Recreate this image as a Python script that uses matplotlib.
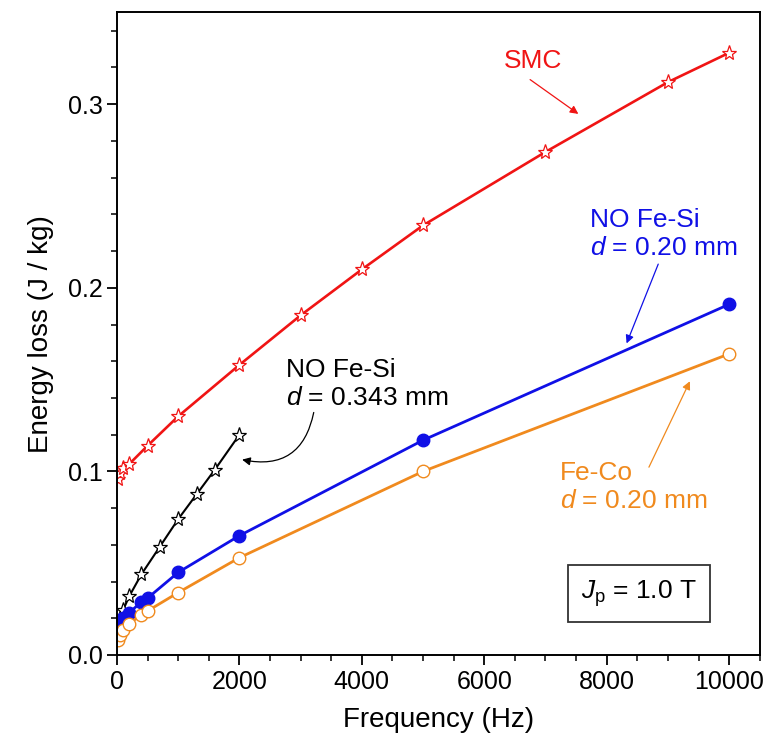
import numpy as np
import matplotlib as mpl
import matplotlib.pyplot as plt
from matplotlib.ticker import MultipleLocator

mpl.rc("font", family="Liberation Sans")
mpl.rc("mathtext", fontset="custom", rm="Liberation Sans", it="Liberation Sans:italic")

# energy loss per cycle vs. frequency at Jp = 1.0 T
freq_smc = [10, 50, 100, 200, 500, 1000, 2000, 3000, 4000, 5000, 7000, 9000, 10000]
loss_smc = [0.096, 0.099, 0.102, 0.104, 0.114, 0.130, 0.158, 0.185, 0.210, 0.234, 0.274, 0.312, 0.328]

freq_fesi343 = [10, 50, 100, 200, 400, 700, 1000, 1300, 1600, 2000]
loss_fesi343 = [0.015, 0.020, 0.0245, 0.032, 0.044, 0.059, 0.074, 0.0875, 0.101, 0.120]

freq_fesi20 = [10, 50, 100, 200, 400, 500, 1000, 2000, 5000, 10000]
loss_fesi20 = [0.017, 0.019, 0.020, 0.023, 0.029, 0.031, 0.045, 0.065, 0.117, 0.191]

freq_feco = [10, 50, 100, 200, 400, 500, 1000, 2000, 5000, 10000]
loss_feco = [0.008, 0.011, 0.0136, 0.017, 0.022, 0.024, 0.034, 0.053, 0.100, 0.164]

red = "#f01414"
blue = "#1010e6"
orange = "#f08a1e"

fig = plt.figure(figsize=(7.8, 7.56), dpi=100)
ax = fig.add_axes([0.150, 0.1336, 0.824, 0.850])

ax.plot(freq_smc, loss_smc, color=red, lw=1.9, marker="*", ms=11, mfc="white", mec=red, mew=0.9)
ax.plot(freq_fesi343, loss_fesi343, color="black", lw=1.5, marker="*", ms=11, mfc="white", mec="black", mew=0.9)
ax.plot(freq_fesi20, loss_fesi20, color=blue, lw=2.0, marker="o", ms=9, mfc=blue, mec=blue)
ax.plot(freq_feco, loss_feco, color=orange, lw=2.0, marker="o", ms=9, mfc="white", mec=orange, mew=1.0)

ax.set_xlim(0, 10500)
ax.set_ylim(0, 0.35)
ax.xaxis.set_major_locator(MultipleLocator(2000))
ax.xaxis.set_minor_locator(MultipleLocator(500))
ax.yaxis.set_major_locator(MultipleLocator(0.1))
ax.yaxis.set_minor_locator(MultipleLocator(0.02))
ax.yaxis.set_major_formatter(mpl.ticker.FormatStrFormatter("%.1f"))
ax.tick_params(which="major", direction="out", length=7, width=1.3, labelsize=18)
ax.tick_params(which="minor", direction="out", length=4, width=1.1)
for s in ax.spines.values():
    s.set_linewidth(1.4)

ax.set_xlabel("Frequency (Hz)", fontsize=20, labelpad=10)
ax.set_ylabel("Energy loss (J / kg)", fontsize=20, labelpad=10)

arrow = dict(arrowstyle="-|>", lw=0.9, mutation_scale=12, shrinkA=0, shrinkB=0)

ax.text(6800, 0.3234, "SMC", color=red, fontsize=19, ha="center", va="center")
ax.annotate("", xy=(7537, 0.2947), xytext=(6749, 0.3134), arrowprops=dict(arrow, color=red))

ax.text(2757, 0.1478, "NO Fe-Si\n$d$ = 0.343 mm", color="black", fontsize=19,
        ha="left", va="center", linespacing=1.2)
ax.annotate("", xy=(2044, 0.1064), xytext=(3214, 0.1321),
            arrowprops=dict(arrow, color="black", connectionstyle="arc3,rad=-0.5"))

ax.text(7727, 0.2293, "NO Fe-Si\n$d$ = 0.20 mm", color=blue, fontsize=19,
        ha="left", va="center", linespacing=1.2)
ax.annotate("", xy=(8325, 0.1697), xytext=(8842, 0.2129), arrowprops=dict(arrow, color=blue))

ax.text(7238, 0.0913, "Fe-Co\n$d$ = 0.20 mm", color=orange, fontsize=19,
        ha="left", va="center", linespacing=1.2)
ax.annotate("", xy=(9359, 0.1491), xytext=(8690, 0.1023), arrowprops=dict(arrow, color=orange))

ax.text(0.8117, 0.0958, r"$J_\mathrm{p}$ = 1.0 T", transform=ax.transAxes, fontsize=19,
        ha="center", va="center",
        bbox=dict(boxstyle="square,pad=0.5", fc="white", ec="#333333", lw=1.3))

fig.savefig("out.png", dpi=100)
